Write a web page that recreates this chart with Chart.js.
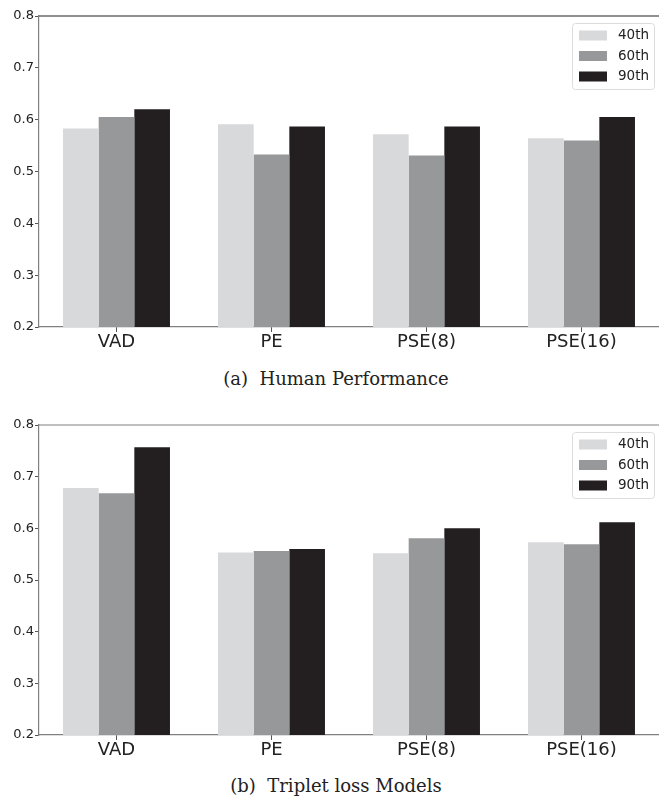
<!DOCTYPE html>
<html>
<head>
<meta charset="utf-8">
<script src="https://cdn.jsdelivr.net/npm/chart.js@4.4.0/dist/chart.umd.min.js"></script>
<style>
  html, body { margin: 0; padding: 0; background: #fff; }
  body { width: 659px; height: 797px; position: relative; overflow: hidden; }
  canvas { position: absolute; left: 0; }
  #chartA { top: 0; }
  #chartB { top: 400px; }
  .caption {
    position: absolute; left: 136px; width: 400px; text-align: center;
    font-family: "DejaVu Serif", serif; font-size: 18px; line-height: 22px; color: #222;
  }
  #capA { top: 368px; }
  #capB { top: 775px; }
</style>
</head>
<body>
<canvas id="chartA" width="659" height="360"></canvas>
<canvas id="chartB" width="659" height="360"></canvas>
<div class="caption" id="capA">(a)&nbsp; Human Performance</div>
<div class="caption" id="capB">(b)&nbsp; Triplet loss Models</div>
<script>
// 데이터
const categories = ['VAD', 'PE', 'PSE(8)', 'PSE(16)'];
const seriesLabels = ['40th', '60th', '90th'];
const seriesColors = ['#d8d9db', '#97989a', '#231f20'];

// (a) Human Performance
const human40 = [0.583, 0.591, 0.572, 0.564];
const human60 = [0.605, 0.533, 0.531, 0.560];
const human90 = [0.620, 0.587, 0.587, 0.605];

// (b) Triplet loss Models
const triplet40 = [0.678, 0.553, 0.552, 0.573];
const triplet60 = [0.668, 0.556, 0.581, 0.569];
const triplet90 = [0.757, 0.560, 0.600, 0.612];

const yMin = 0.2, yMax = 0.8, yStep = 0.1;

// 범례 + 위쪽 테두리 그리기
const boxLegend = {
    id: 'boxLegend',
    afterDraw(chart, args, opts) {
        const ctx = chart.ctx;
        const a = chart.chartArea;
        ctx.save();
        // top spine
        ctx.strokeStyle = opts.topColor;
        ctx.lineWidth = 1.2;
        ctx.beginPath();
        ctx.moveTo(a.left, a.top);
        ctx.lineTo(a.right, a.top);
        ctx.stroke();

        // legend box
        const w = 82, h = 66;
        const left = a.right - 5 - w, top = a.top + 7;
        ctx.beginPath();
        ctx.roundRect(left + 0.5, top + 0.5, w, h, 3);
        ctx.fillStyle = 'rgba(255,255,255,0.8)';
        ctx.fill();
        ctx.strokeStyle = '#dcdcdc';
        ctx.lineWidth = 1;
        ctx.stroke();

        ctx.font = '13.5px "DejaVu Sans"';
        ctx.textBaseline = 'middle';
        chart.data.datasets.forEach((ds, i) => {
            const cy = top + 12.5 + i * 20.5;
            ctx.fillStyle = ds.backgroundColor;
            ctx.fillRect(left + 7, cy - 5, 28, 10);
            ctx.fillStyle = '#222';
            ctx.fillText(ds.label, left + 46, cy);
        });
        ctx.restore();
    }
};

function makeChart(id, values, padTop, areaBottom, topColor) {
    const canvas = document.getElementById(id);
    return new Chart(canvas.getContext('2d'), {
        type: 'bar',
        data: {
            labels: categories,
            datasets: values.map((v, i) => ({
                label: seriesLabels[i],
                data: v,
                backgroundColor: seriesColors[i],
                borderWidth: 0,
                categoryPercentage: 0.69,
                barPercentage: 1.0
            }))
        },
        options: {
            responsive: false,
            animation: false,
            layout: { padding: { top: padTop, left: 0, right: 0, bottom: 0 } },
            plugins: {
                legend: { display: false },
                tooltip: { enabled: false },
                boxLegend: { topColor: topColor }
            },
            scales: {
                x: {
                    grid: { drawOnChartArea: false, drawTicks: true, tickLength: 5, offset: false, color: '#555' },
                    border: { color: '#808080', width: 1.2 },
                    ticks: { color: '#222', font: { family: 'DejaVu Sans', size: 18 }, padding: 0 },
                    afterFit(scale) { scale.height = canvas.height - areaBottom; }
                },
                y: {
                    min: yMin,
                    max: yMax,
                    grid: { drawOnChartArea: false, drawTicks: true, tickLength: 4, color: '#555' },
                    border: { color: '#808080', width: 1.2 },
                    ticks: {
                        stepSize: yStep,
                        color: '#222',
                        font: { family: 'DejaVu Sans', size: 13 },
                        padding: 1,
                        callback: (v) => v.toFixed(1)
                    },
                    afterFit(scale) { scale.width = 39; }
                }
            }
        },
        plugins: [boxLegend]
    });
}

makeChart('chartA', [human40, human60, human90], 16, 327, '#222');
makeChart('chartB', [triplet40, triplet60, triplet90], 25, 335, '#808080');
</script>
</body>
</html>
